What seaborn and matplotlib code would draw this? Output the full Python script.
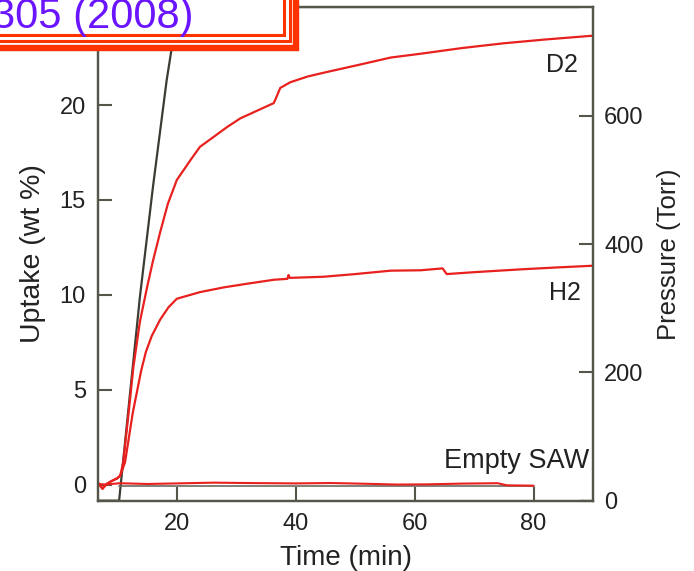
import matplotlib
matplotlib.use("Agg")
import matplotlib.pyplot as plt
import seaborn as sns
from matplotlib.patches import Rectangle

# ---------------- data ----------------
time_d2 = [6.8, 7.5, 8.2, 9.0, 10.0, 10.5, 11.0, 11.9, 12.7, 13.8, 15.0, 16.0, 17.2,
           18.5, 20.0, 22.3, 23.9, 26.1, 28.5, 30.7, 33.5, 36.3, 36.6, 37.4, 39.1,
           42.0, 44.7, 50.4, 56.0, 61.0, 68.0, 75.0, 82.0, 90.0]
wt_d2 = [0.1, -0.2, 0.05, 0.2, 0.35, 0.5, 1.2, 3.8, 6.2, 8.6, 10.4, 11.8, 13.3,
         14.8, 16.05, 17.1, 17.8, 18.3, 18.85, 19.3, 19.7, 20.1, 20.3, 20.9, 21.2,
         21.5, 21.7, 22.1, 22.5, 22.7, 23.0, 23.25, 23.45, 23.65]

time_h2 = [6.8, 7.5, 8.2, 9.0, 10.0, 10.5, 11.3, 12.0, 12.6, 13.3, 14.0, 14.8, 15.8,
           17.2, 18.6, 20.0, 21.1, 23.9, 27.9, 32.0, 36.3, 38.6, 38.8, 39.0, 44.7,
           50.0, 56.0, 61.0, 64.7, 65.4, 70.0, 77.9, 84.0, 90.0]
wt_h2 = [0.1, -0.2, 0.05, 0.2, 0.35, 0.5, 1.2, 2.6, 3.8, 4.9, 6.0, 7.0, 7.85,
         8.7, 9.35, 9.8, 9.9, 10.15, 10.4, 10.6, 10.8, 10.85, 11.05, 10.9, 10.96,
         11.1, 11.28, 11.3, 11.4, 11.1, 11.2, 11.35, 11.45, 11.54]

time_empty = [6.8, 8.0, 10.4, 15.0, 20.0, 26.2, 32.0, 40.0, 46.0, 52.0, 57.0,
              62.0, 68.0, 74.0, 75.5, 80.0]
wt_empty = [0.05, 0.02, 0.09, 0.05, 0.08, 0.12, 0.1, 0.08, 0.1, 0.06, 0.02,
            0.03, 0.07, 0.09, -0.02, -0.04]
time_empty_ref = [10.3, 80.0]
wt_empty_ref = [-0.08, -0.08]

time_p = [6.8, 10.3, 12.0, 13.8, 16.0, 18.3, 19.1, 20.4, 30.0, 50.0, 70.0, 87.7]
pressure = [0, 0, 155, 318, 490, 656, 703, 770, 770, 770, 770, 770]
time_vent = [87.8, 90.0]
pressure_vent = [0, 0]

x_ticks = [20, 40, 60, 80]
y_ticks = [0, 5, 10, 15, 20]
p_ticks = [0, 200, 400, 600]

# ---------------- style ----------------
sns.set_theme(style="white")
plt.rcParams["font.family"] = ["Liberation Sans", "DejaVu Sans"]

W, H = 694, 571
RED = "#e8201e"
DARK = "#3c3c34"
SPINE = "#55554a"
TXT = "#222222"

fig = plt.figure(figsize=(W / 100, H / 100), dpi=100)
fig.patch.set_facecolor("white")
ax = fig.add_axes([98.3 / W, 1 - 500.7 / H, (593 - 98.3) / W, (500.7 - 7) / H])
ax2 = ax.twinx()
ax.set_zorder(ax2.get_zorder() + 1)
ax.patch.set_visible(False)

# pressure (right axis)
sns.lineplot(x=time_p, y=pressure, ax=ax2, color=DARK, lw=1.6, estimator=None, sort=False)
sns.lineplot(x=time_vent, y=pressure_vent, ax=ax2, color=DARK, lw=1.6, estimator=None, sort=False)

# uptake (left axis)
sns.lineplot(x=time_empty_ref, y=wt_empty_ref, ax=ax, color="#6a6a60", lw=1.2, estimator=None, sort=False)
sns.lineplot(x=time_empty, y=wt_empty, ax=ax, color=RED, lw=1.5, estimator=None, sort=False)
sns.lineplot(x=time_h2, y=wt_h2, ax=ax, color=RED, lw=1.6, estimator=None, sort=False)
sns.lineplot(x=time_d2, y=wt_d2, ax=ax, color=RED, lw=1.6, estimator=None, sort=False)

ax.set_xlim(6.8, 90)
ax.set_ylim(-0.83, 25.16)
ax2.set_ylim(0, 770)

ax.set_xticks(x_ticks)
ax.set_yticks(y_ticks)
ax2.set_yticks(p_ticks)

for a in (ax, ax2):
    for s in a.spines.values():
        s.set_color(SPINE)
        s.set_linewidth(1.6)
    a.grid(False)

ax.tick_params(axis="both", direction="in", length=10, width=1.5, color=SPINE,
               labelcolor=TXT, labelsize=17)
ax.tick_params(axis="x", pad=9, bottom=True, top=False)
ax.tick_params(axis="y", pad=9, left=True, right=False)
ax2.tick_params(axis="y", direction="in", length=10, width=1.5, color=SPINE,
                labelcolor=TXT, labelsize=17, pad=8, right=True, left=False)

ax.set_xlabel("Time (min)", fontsize=20, color=TXT, labelpad=7)
ax.set_ylabel("Uptake (wt %)", fontsize=20.5, color=TXT, labelpad=10)
ax2.set_ylabel("Pressure (Torr)", fontsize=18.5, color=TXT, labelpad=10)

ax.text(87.5, 22.1, "D2", fontsize=18, color=TXT, ha="right", va="center")
ax.text(88.0, 10.1, "H2", fontsize=18, color=TXT, ha="right", va="center")
ax.text(89.4, 1.26, "Empty SAW", fontsize=19.5, color=TXT, ha="right", va="center")

# ---------------- citation box (top-left, partly cut off) ----------------
def fx(px):
    return px / W

def fy(py):
    return 1 - py / H

outer = Rectangle((fx(-20), fy(48.3)), fx(295.5) - fx(-20), fy(-20) - fy(48.3),
                  transform=fig.transFigure, facecolor="white", edgecolor="#ff3300",
                  lw=4.6, zorder=20, clip_on=False)
middle = Rectangle((fx(-20), fy(41)), fx(289.5) - fx(-20), fy(-20) - fy(41),
                   transform=fig.transFigure, facecolor="none", edgecolor="#ff3300",
                   lw=2.2, zorder=21, clip_on=False)
inner = Rectangle((fx(-20), fy(35)), fx(284) - fx(-20), fy(-20) - fy(35),
                  transform=fig.transFigure, facecolor="none", edgecolor="#ff3300",
                  lw=2.2, zorder=21, clip_on=False)
for r in (outer, middle, inner):
    fig.add_artist(r)

fig.text(fx(-8), fy(28), "305 (2008)", fontsize=30, color="#6a14ff",
         ha="left", va="baseline", zorder=22)

fig.savefig("out.png", dpi=100, facecolor="white")
